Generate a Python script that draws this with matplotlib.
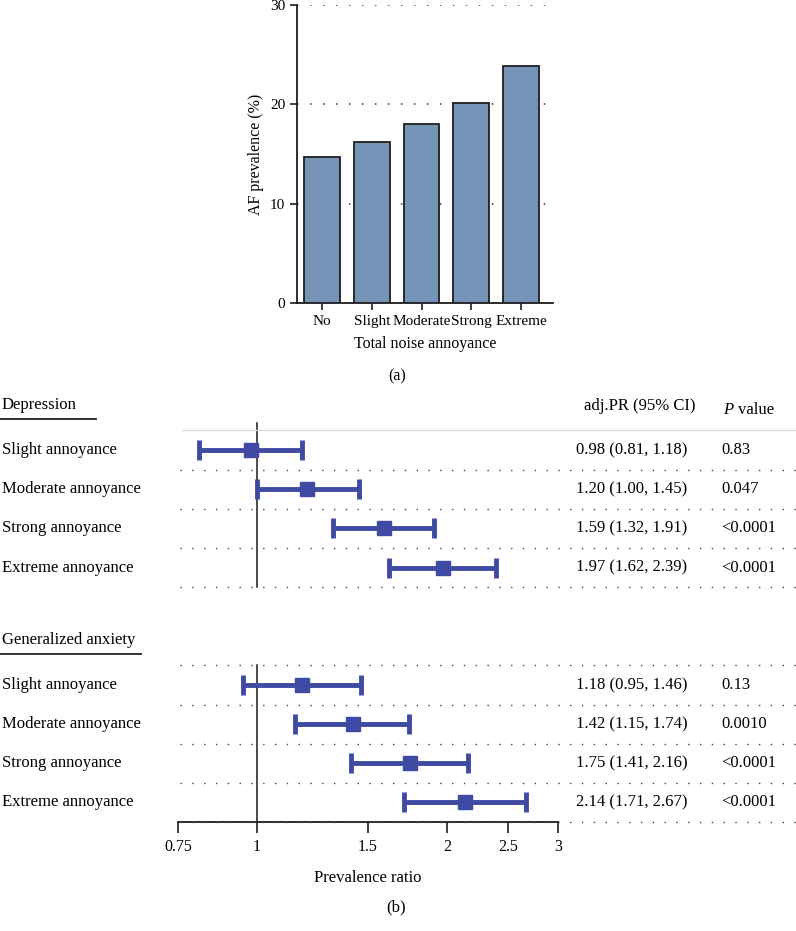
import numpy as np
import matplotlib.pyplot as plt
from matplotlib.lines import Line2D
from matplotlib.transforms import blended_transform_factory
from matplotlib.ticker import FixedLocator, NullLocator, FixedFormatter

plt.rcParams["font.family"] = ["Liberation Serif", "DejaVu Serif"]

# --- panel (a) data ---
bar_cats = ["No", "Slight", "Moderate", "Strong", "Extreme"]
af_prev = [14.7, 16.2, 18.0, 20.1, 23.9]

# --- panel (b) data ---
row_labels = ["Slight annoyance", "Moderate annoyance", "Strong annoyance", "Extreme annoyance"]
dep_pr = [0.98, 1.20, 1.59, 1.97]
dep_lo = [0.81, 1.00, 1.32, 1.62]
dep_hi = [1.18, 1.45, 1.91, 2.39]
dep_p = ["0.83", "0.047", "<0.0001", "<0.0001"]
anx_pr = [1.18, 1.42, 1.75, 2.14]
anx_lo = [0.95, 1.15, 1.41, 1.71]
anx_hi = [1.46, 1.74, 2.16, 2.67]
anx_p = ["0.13", "0.0010", "<0.0001", "<0.0001"]
pr_ticks = [0.75, 1, 1.5, 2, 2.5, 3]
pr_ticklabels = ["0.75", "1", "1.5", "2", "2.5", "3"]

W, H = 796, 931
fig = plt.figure(figsize=(W / 100, H / 100), dpi=100)

def fx(px):
    return px / W

def fy(py):
    return 1 - py / H

dots = (0, (1, 7.5))

# ---------------- panel (a) ----------------
ax1 = fig.add_axes([fx(297), fy(303), fx(553) - fx(297), fy(5) - fy(303)])
x = np.arange(len(bar_cats))
ax1.bar(x, af_prev, width=0.72, color="#7693B8", edgecolor="#1e1e1e", linewidth=1.3, zorder=3)
ax1.set_xlim(-0.5, 4.64)
ax1.set_ylim(0, 30)
ax1.set_yticks([0, 10, 20, 30])
ax1.set_xticks(x)
ax1.set_xticklabels(bar_cats, fontsize=11)
ax1.tick_params(axis="y", labelsize=11, length=5, width=1.2, color="#1e1e1e")
ax1.tick_params(axis="x", length=5, width=1.2, color="#1e1e1e")
ax1.spines["top"].set_visible(False)
ax1.spines["right"].set_visible(False)
for s in ("left", "bottom"):
    ax1.spines[s].set_linewidth(1.3)
    ax1.spines[s].set_color("#1e1e1e")
ax1.yaxis.grid(True, linestyle=dots, color="#333333", linewidth=1.1, zorder=0)
ax1.set_axisbelow(True)
ax1.set_ylabel("AF prevalence (%)", fontsize=11.5, labelpad=4)
ax1.set_xlabel("Total noise annoyance", fontsize=11.5, labelpad=6)
fig.text(fx(397), fy(376), "(a)", fontsize=11.5, ha="center", va="center")

# ---------------- panel (b) ----------------
ax2 = fig.add_axes([fx(178), fy(822), fx(558) - fx(178), fy(425) - fy(822)])
ax2.set_xscale("log")
ax2.set_xlim(0.75, 3)
ax2.set_ylim(9.5, -0.64)
for s in ("top", "right", "left"):
    ax2.spines[s].set_visible(False)
ax2.spines["bottom"].set_linewidth(1.3)
ax2.spines["bottom"].set_color("#1e1e1e")
ax2.set_yticks([])
ax2.xaxis.set_major_locator(FixedLocator(pr_ticks))
ax2.xaxis.set_major_formatter(FixedFormatter(pr_ticklabels))
ax2.xaxis.set_minor_locator(NullLocator())
ax2.tick_params(axis="x", labelsize=11.5, length=8, width=1.2, color="#1e1e1e", pad=4)
ax2.set_xlabel("Prevalence ratio", fontsize=12, labelpad=11)

blue = "#3F4AA2"
fs = 12
trans = blended_transform_factory(fig.transFigure, ax2.transData)

groups = [
    ("Depression", 0, dep_pr, dep_lo, dep_hi, dep_p),
    ("Generalized anxiety", 6, anx_pr, anx_lo, anx_hi, anx_p),
]

for name, off, pr, lo, hi, pv in groups:
    ys = np.arange(len(pr)) + off
    pr = np.array(pr)
    err = [pr - np.array(lo), np.array(hi) - pr]
    ax2.errorbar(pr, ys, xerr=err, fmt="s", color=blue, ms=10, lw=3.5,
                 capsize=7, capthick=3.5, zorder=4)
    # reference line at 1
    ax2.plot([1, 1], [off - 0.5 if off else -0.7, off + 3.5], color="#1a1a1a", lw=1.1, zorder=3,
             clip_on=False)
    # row separators
    seps = np.arange(off - 0.5, off + 4.0, 1.0)
    for k, yy in enumerate(seps):
        if off == 0 and k == 0:
            fig.add_artist(Line2D([fx(182), 1.0], [yy, yy], transform=trans,
                                  color="#dddddd", lw=1.0))
        else:
            fig.add_artist(Line2D([fx(180), 1.0], [yy, yy], transform=trans,
                                  color="#444444", lw=1.0, linestyle=dots))
    # header + underline
    fig.text(fx(2), off - 1.15, name, transform=trans, fontsize=fs, ha="left", va="center")
    ulen = 96 if off == 0 else 141
    fig.add_artist(Line2D([0, fx(ulen)], [off - 0.8, off - 0.8], transform=trans,
                          color="#222222", lw=1.3))
    for i, yy in enumerate(ys):
        fig.text(fx(2), yy, row_labels[i], transform=trans, fontsize=fs,
                 ha="left", va="center")
        fig.text(fx(576), yy, f"{pr[i]:.2f} ({lo[i]:.2f}, {hi[i]:.2f})", transform=trans,
                 fontsize=fs, ha="left", va="center")
        fig.text(fx(721), yy, pv[i], transform=trans, fontsize=fs, ha="left", va="center")

fig.text(fx(584), -1.13, "adj.PR (95% CI)", transform=trans, fontsize=fs, ha="left", va="center")
fig.text(fx(723), -1.02, "P", transform=trans, fontsize=fs, style="italic", ha="left", va="center")
fig.text(fx(738), -1.02, "value", transform=trans, fontsize=fs, ha="left", va="center")
fig.text(fx(396), fy(907), "(b)", fontsize=12, ha="center", va="center")

fig.savefig("out.png", dpi=100)
